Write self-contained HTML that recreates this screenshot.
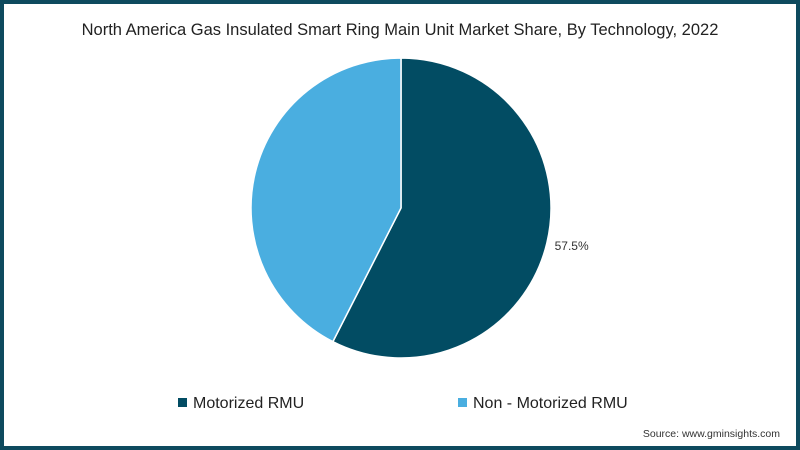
<!DOCTYPE html>
<html><head><meta charset="utf-8"><style>
body{margin:0;background:#fff}
#wrap{position:relative;width:800px;height:450px;box-sizing:border-box;border:4px solid #0e4a5e;background:#fff;font-family:"Liberation Sans",sans-serif;overflow:hidden}
</style></head><body>
<div id="wrap">
<svg width="792" height="442" viewBox="4 4 792 442" style="position:absolute;left:0;top:0">
<text x="400" y="35" text-anchor="middle" font-size="16.5" fill="#222">North America Gas Insulated Smart Ring Main Unit Market Share, By Technology, 2022</text>
<g id="pie"></g>
<g><rect x="178" y="398" width="9" height="9" fill="#024c63"/><text x="193" y="408" font-size="16" fill="#222">Motorized RMU</text></g>
<g><rect x="458" y="398" width="9" height="9" fill="#4aaee0"/><text x="473" y="408" font-size="16" fill="#222">Non - Motorized RMU</text></g>
<text x="780" y="437" text-anchor="end" font-size="10.5" fill="#333">Source: www.gminsights.com</text>
</svg>
</div>
<script>
const categories=["Motorized RMU","Non - Motorized RMU"];
const values=[57.5,42.5];
const labels=["57.5%",""];
const colors=["#024c63","#4aaee0"];
const cx=401,cy=208,r=150;
const g=document.getElementById('pie');
const total=values.reduce((a,b)=>a+b,0);
let a0=-Math.PI/2;
values.forEach((v,i)=>{
 const a1=a0+v/total*2*Math.PI;
 const x0=cx+r*Math.cos(a0),y0=cy+r*Math.sin(a0),x1=cx+r*Math.cos(a1),y1=cy+r*Math.sin(a1);
 const p=document.createElementNS('http://www.w3.org/2000/svg','path');
 p.setAttribute('d',`M${cx},${cy}L${x0},${y0}A${r},${r} 0 ${a1-a0>Math.PI?1:0} 1 ${x1},${y1}Z`);
 p.setAttribute('fill',colors[i]);p.setAttribute('stroke','#fff');p.setAttribute('stroke-width','1.5');
 
 
 g.appendChild(p);
 if(labels[i]){
  const am=(a0+a1)/2;
  const t=document.createElementNS('http://www.w3.org/2000/svg','text');
  t.setAttribute('x',cx+(r+8)*Math.cos(am));t.setAttribute('y',cy+(r+8)*Math.sin(am)+5);
  t.setAttribute('font-size','12');t.setAttribute('fill','#333');
  t.textContent=labels[i];
  
  
  g.appendChild(t);
 }
 a0=a1;
});
</script>
</body></html>
